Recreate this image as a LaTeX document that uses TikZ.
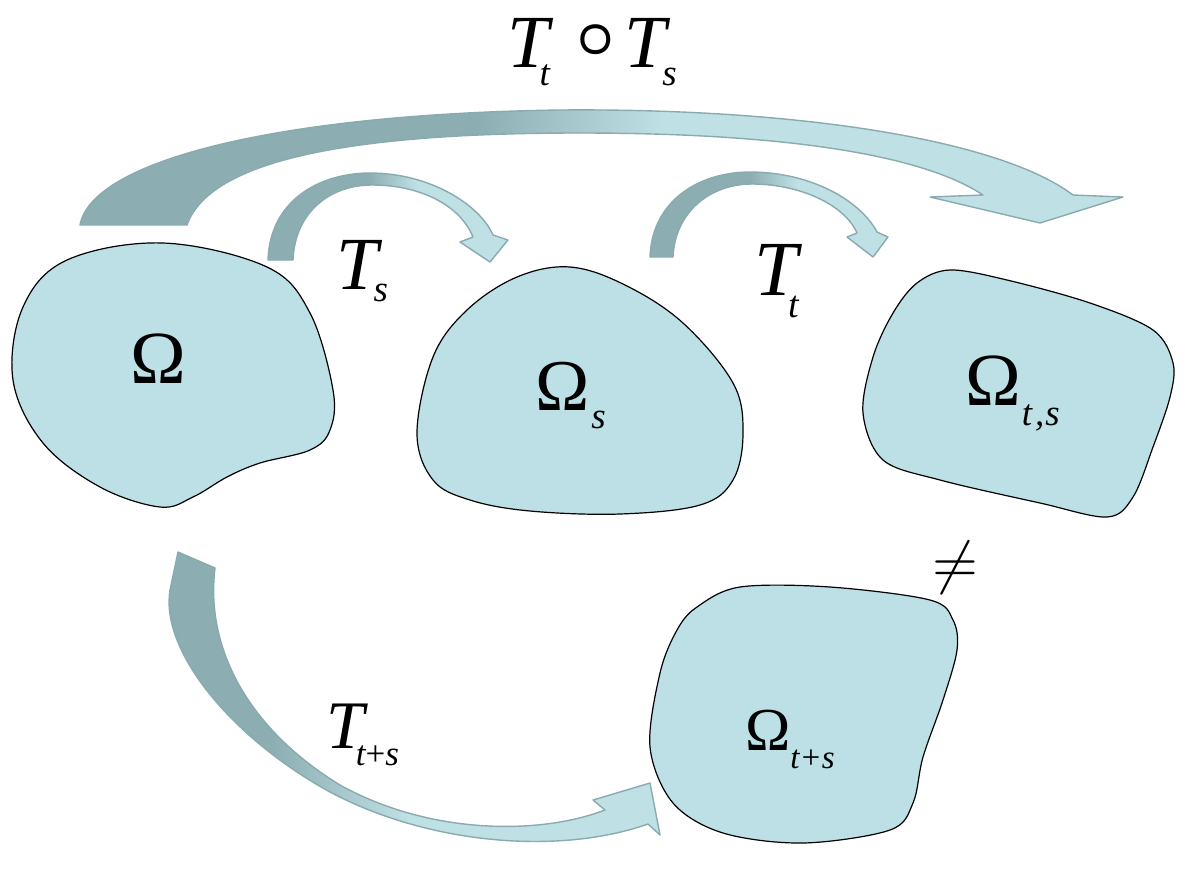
\documentclass[tikz,border=0pt]{standalone}
\usepackage{fontspec}
\usepackage{graphicx}
\usepackage{bm}
\setmainfont{Liberation Serif}
\definecolor{blobfill}{RGB}{188,224,229}
\definecolor{ardark}{RGB}{140,174,178}
\definecolor{arlight}{RGB}{191,225,230}
\definecolor{arline}{RGB}{137,171,176}
\pgfdeclarehorizontalshading{shbig}{100bp}{color(0bp)=(ardark); color(44bp)=(ardark); color(53bp)=(arlight); color(100bp)=(arlight)}
\pgfdeclarehorizontalshading{shsmall}{100bp}{color(0bp)=(ardark); color(46bp)=(ardark); color(56bp)=(arlight); color(100bp)=(arlight)}
\pgfdeclarehorizontalshading{shlow}{100bp}{color(0bp)=(ardark); color(36bp)=(ardark); color(50bp)=(arlight); color(100bp)=(arlight)}
\newcommand\lsub[3]{\raisebox{-#1}{\fontsize{#2}{#2}\selectfont\itshape #3}}
\begin{document}
\begin{tikzpicture}[x=1pt,y=-1pt,
  blob/.style={fill=blobfill,draw=black,line width=1.2pt},
  bigarrow/.style={draw=arline,line width=1.4pt,line join=round},
  lab/.style={anchor=base west,inner sep=0pt,outer sep=0pt}]
\useasboundingbox (0,0) rectangle (1190,871);
\fill[white] (0,0) rectangle (1190,871);

% blobs
\draw[blob] plot[smooth cycle,tension=0.6] coordinates {(163,243) (267,267) (310,313) (333,390) (330,430) (310,450) (260,463) (227,477) (193,497) (160,507) (100,487) (43,443) (13,380) (23,307) (67,260)};
\draw[blob] plot[smooth cycle,tension=0.6] coordinates {(570,267) (625,285) (683,323) (733,383) (743,433) (733,480) (700,505) (620,514) (530,511) (470,500) (433,480) (417,433) (433,357) (467,310) (517,277)};
\draw[blob] plot[smooth cycle,tension=0.55] coordinates {(950,270) (1007,280) (1090,303) (1153,330) (1173,363) (1170,397) (1153,447) (1133,497) (1107,517) (1040,503) (940,480) (883,460) (863,413) (873,357) (893,313) (917,283)};
\draw[blob] plot[smooth cycle,tension=0.55] coordinates {(697,607) (740,587) (830,587) (930,600) (953,620) (957,650) (943,700) (923,757) (913,803) (890,830) (803,843) (723,833) (673,803) (650,747) (660,673) (677,630)};

% big arrow T_t o T_s
\shade[shading=shbig,bigarrow] (80,225) .. controls (92,160) and (280,114) .. (560,110)
  .. controls (800,108) and (1000,140) .. (1073,195)
  -- (1123,197) -- (1040,223) -- (930,197) -- (983,195)
  .. controls (915,150) and (760,133) .. (580,133)
  .. controls (350,133) and (210,160) .. (187,225) -- cycle;

% small arrow T_s
\shade[shading=shsmall,bigarrow] (268,260) .. controls (270,200) and (320,173) .. (370,173)
  .. controls (430,173) and (480,205) .. (493,235)
  -- (508,240) -- (490,262) -- (460,242) -- (473,237)
  .. controls (460,205) and (420,185) .. (372,185)
  .. controls (330,185) and (295,212) .. (293,260) -- cycle;

% small arrow T_t
\shade[shading=shsmall,bigarrow] (650,257) .. controls (652,200) and (700,172) .. (750,172)
  .. controls (810,172) and (860,200) .. (877,232)
  -- (888,237) -- (873,257) -- (847,237) -- (857,233)
  .. controls (845,205) and (800,184) .. (752,184)
  .. controls (710,184) and (675,212) .. (673,257) -- cycle;

% bottom arrow T_{t+s}
\shade[shading=shlow,bigarrow] (178,552) -- (215,568)
  .. controls (205,650) and (250,730) .. (340,785)
  .. controls (430,835) and (540,835) .. (605,810)
  -- (593,800) -- (650,783) -- (660,835) -- (648,824)
  .. controls (560,855) and (430,845) .. (330,792)
  .. controls (230,737) and (160,650) .. (170,590) -- cycle;

% labels
\node[lab] (lO) at (130,383) {\fontsize{75pt}{75pt}\selectfont Ω};
\node[lab] (lOs) at (535,410) {\fontsize{73pt}{73pt}\selectfont Ω\kern2pt\lsub{18pt}{37pt}{s}};
\node[lab] (lOts) at (965,405) {\fontsize{75pt}{75pt}\selectfont Ω\kern1pt\lsub{20pt}{37pt}{t\kern3pt,\kern1pt s}};
\node[lab] (lOtps) at (745,750) {\fontsize{61pt}{61pt}\selectfont Ω\kern0pt\lsub{18pt}{33pt}{t+s}};
\node[lab] (lTop) at (507,67) {\fontsize{75pt}{75pt}\selectfont\itshape T\kern-9pt\lsub{18pt}{37pt}{t}\kern27pt\raisebox{11pt}{\scalebox{2.7}{$\bm{\circ}$}}\kern9pt T\kern-4pt\lsub{18pt}{37pt}{s}};
\node[lab] (lTs) at (336,289) {\fontsize{75pt}{75pt}\selectfont\itshape T\kern-4pt\lsub{12pt}{37pt}{s}};
\node[lab] (lTt) at (754,295) {\fontsize{78pt}{78pt}\selectfont\itshape T\kern-9pt\lsub{22pt}{38pt}{t}};
\node[lab] (lTtps) at (326,748) {\fontsize{68pt}{68pt}\selectfont\itshape T\kern-8pt\lsub{17pt}{35pt}{t\upshape+\itshape s}};
\node[inner sep=0pt] (neq) at (955,568) {\scalebox{5.9}{$\neq$}};
\end{tikzpicture}
\end{document}
